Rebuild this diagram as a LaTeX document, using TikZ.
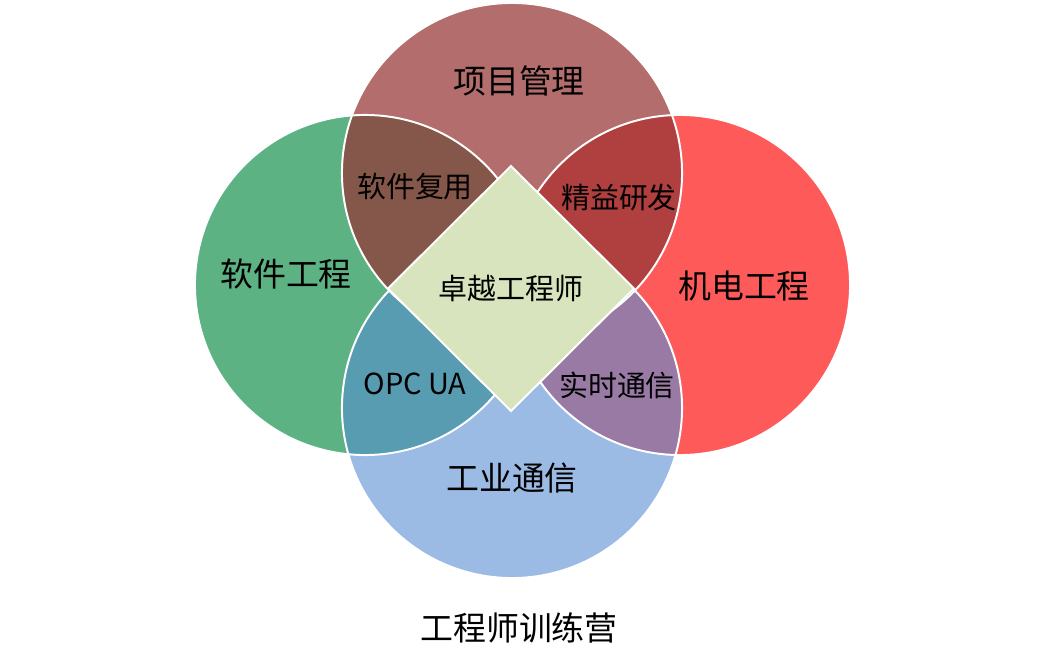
\documentclass[tikz,border=0pt]{standalone}
\usepackage{fontspec}
\setmainfont{Noto Sans CJK SC}
\usepackage{xcolor}
\usepackage{tikz}
\definecolor{vennpm}{HTML}{B26D6C}
\definecolor{vennse}{HTML}{5CB283}
\definecolor{vennme}{HTML}{FE5A5A}
\definecolor{vennic}{HTML}{9BBAE4}
\definecolor{lensreuse}{HTML}{84574A}
\definecolor{lenslean}{HTML}{B03F40}
\definecolor{lensopc}{HTML}{589CB2}
\definecolor{lensrt}{HTML}{997AA4}
\definecolor{venncore}{HTML}{D7E4BD}
\newcommand{\vennr}{4.25cm}

\begin{document}
\begin{tikzpicture}[x=0.025cm, y=-0.025cm,
    rim/.style={draw=white, line width=1.4pt},
    biglbl/.style={font=\fontsize{23.4pt}{28pt}\selectfont, inner sep=0pt},
    lenslbl/.style={font=\fontsize{20.6pt}{25pt}\selectfont, inner sep=0pt}]
  \useasboundingbox (0,0) rectangle (1038,669);
  \coordinate (pm) at (512,173);
  \coordinate (se) at (365,285);
  \coordinate (me) at (680,285);
  \coordinate (ic) at (512,408);
  % vier kreise
  \foreach \c/\col in {pm/vennpm, se/vennse, me/vennme, ic/vennic}
    \fill[\col] (\c) circle (\vennr);
  % schnittflaechen je zweier kreise
  \foreach \a/\b/\col in {pm/se/lensreuse, pm/me/lenslean,
                          se/ic/lensopc, me/ic/lensrt} {
    \begin{scope}
      \clip (\a) circle (\vennr);
      \fill[\col] (\b) circle (\vennr);
    \end{scope}
  }
  \foreach \c in {pm,se,me,ic} \draw[rim] (\c) circle (\vennr);
  % raute in der mitte
  \filldraw[rim, fill=venncore]
      (511,166) -- (634,288.5) -- (511,411) -- (388,288.5) -- cycle;
  % beschriftungen
  \node[biglbl] (tpm) at (519,81) {项目管理};
  \node[biglbl] (tse) at (286,274) {软件工程};
  \node[biglbl] (tme) at (744,286) {机电工程};
  \node[biglbl] (tic) at (512,478) {工业通信};
  \node[lenslbl] (treuse) at (415,187) {软件复用};
  \node[lenslbl] (tlean) at (619,197) {精益研发};
  \node[lenslbl] (topc) at (415,384) {OPC UA};
  \node[lenslbl] (trt) at (617,385) {实时通信};
  \node[lenslbl] (tcore) at (511,288) {卓越工程师};
  \node[biglbl] (title) at (519,628) {工程师训练营};
\end{tikzpicture}
\end{document}
